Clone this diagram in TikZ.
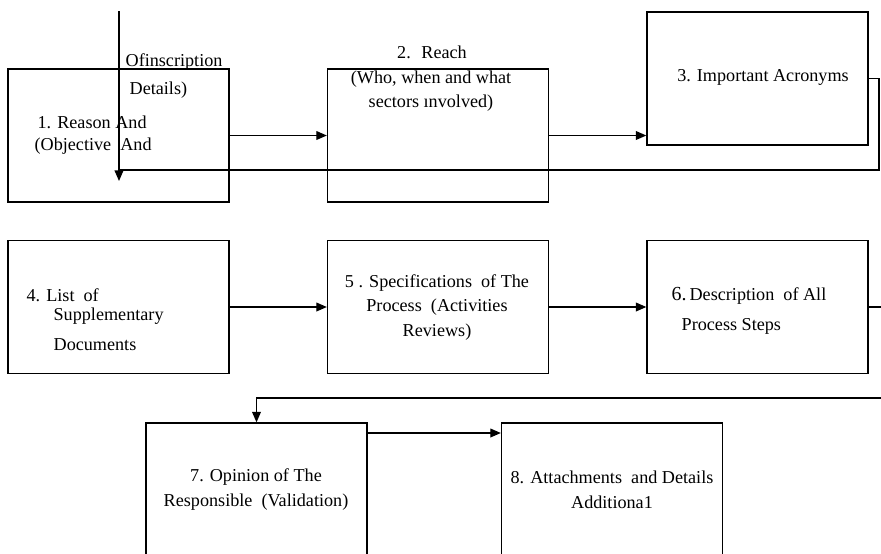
\documentclass[tikz,border=0pt]{standalone}
\usepackage{fontspec}
\setmainfont{Liberation Serif}
\usetikzlibrary{arrows.meta,positioning,calc}

\begin{document}
\begin{tikzpicture}[x=0.03cm, y=-0.03cm, line width=1.1pt,
    box/.style={draw, minimum width=6.63cm, minimum height=3.99cm, inner sep=0pt},
    lbl/.style={inner sep=0pt, font=\fontsize{15.5}{21}\selectfont},
    arr/.style={-{Triangle[length=9pt,width=7.5pt]}}]
    \useasboundingbox (0,0) rectangle (881,553);
    \clip (0,0) rectangle (881,553);

    % boxes
    \node[box] (b1) at (118.5,135.5) {};
    \node[box] (b2) at (438,135.5) {};
    \node[box] (b3) at (757.5,78.5) {};
    \node[box] (b4) at (118.5,307) {};
    \node[box] (b5) at (438,307) {};
    \node[box] (b6) at (757.5,307) {};
    \node[box] (b7) at (256.5,489.5) {};
    \node[box] (b8) at (612,489.5) {};

    % texts
    \node[lbl, anchor=west] (t1a) at (125,62) {Ofinscription};
    \node[lbl, anchor=west] (t1b) at (129,90) {Details)};
    \node[lbl, anchor=west] (t1c) at (37,122) {1. Reason And};
    \node[lbl, anchor=west] (t1d) at (34,146) {(Objective~ And};
    \node[lbl] (t2a) at (432,52) {2.~ Reach};
    \node[lbl, align=center] (t2b) at (431,91) {(Who, when and what\\sectors ınvolved)};
    \node[lbl] (t3) at (763,77) {3. Important Acronyms};
    \node[lbl, anchor=west] (t4a) at (26,295) {4. List~ of};
    \node[lbl, anchor=west] (t4b) at (53,316) {Supplementary};
    \node[lbl, anchor=west] (t4c) at (53,345) {Documents};
    \node[lbl, align=center] (t5) at (437,307.5) {5 . Specifications~ of The\\Process~ (Activities\\Reviews)};
    \node[lbl, anchor=west] (t6a) at (671,296) {{\fontsize{17}{21}\selectfont 6.}\,Description~ of All};
    \node[lbl, anchor=west] (t6b) at (681,326) {Process Steps};
    \node[lbl, align=center] (t7) at (256,489.5) {7. Opinion of The\\Responsible~ (Validation)};
    \node[lbl, align=center] (t8) at (612,489.5) {8. Attachments~ and Details\\Additiona1};

    % connectors
    \coordinate (r3) at (879,170);
    \coordinate (l3) at (119,170);
    \coordinate (top) at (119,11);
    \coordinate (tip) at (119,181);
    \coordinate (e6) at (881,307);
    \coordinate (e7) at (881,398);
    \coordinate (j7) at (366,433);

    \draw[arr] (b1) -- (b2);
    \draw[arr] (b2.east) -- (b2.east -| b3.west);
    \draw (b3.east) -| (r3) -- (l3);
    \draw[arr] (top) -- (tip);
    \draw[arr] (b4) -- (b5);
    \draw[arr] (b5) -- (b6);
    \draw (b6) -- (e6);
    \draw[arr] (e7) -| (b7.north);
    \draw[arr] (b7.east |- j7) -- (b8.west |- j7);
\end{tikzpicture}
\end{document}
